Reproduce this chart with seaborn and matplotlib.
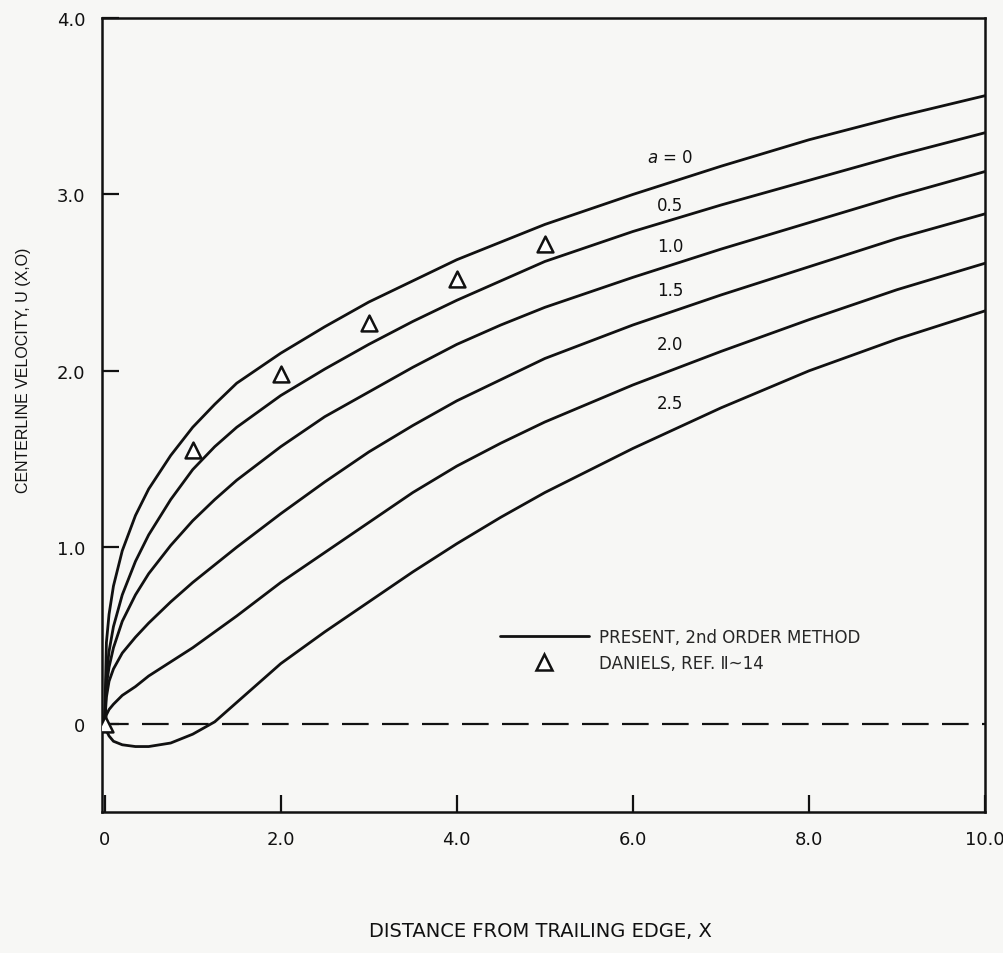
import numpy as np
import pandas as pd
import matplotlib
matplotlib.use("Agg")
import matplotlib.pyplot as plt
import seaborn as sns

# distance from trailing edge (shared grid for all curves)
x_dist = [0, 0.02, 0.05, 0.1, 0.2, 0.35, 0.5, 0.75, 1.0, 1.25, 1.5, 2.0, 2.5,
          3.0, 3.5, 4.0, 4.5, 5.0, 6.0, 7.0, 8.0, 9.0, 10.0]

# centerline velocity for each value of a
u_a00 = [0, 0.46, 0.62, 0.78, 0.98, 1.18, 1.33, 1.52, 1.68, 1.81, 1.93, 2.10, 2.25,
         2.39, 2.51, 2.63, 2.73, 2.83, 3.00, 3.16, 3.31, 3.44, 3.56]
u_a05 = [0, 0.28, 0.41, 0.55, 0.73, 0.92, 1.07, 1.27, 1.44, 1.57, 1.68, 1.86, 2.01,
         2.15, 2.28, 2.40, 2.51, 2.62, 2.79, 2.94, 3.08, 3.22, 3.35]
u_a10 = [0, 0.22, 0.32, 0.43, 0.58, 0.73, 0.85, 1.01, 1.15, 1.27, 1.38, 1.57, 1.74,
         1.88, 2.02, 2.15, 2.26, 2.36, 2.53, 2.69, 2.84, 2.99, 3.13]
u_a15 = [0, 0.15, 0.24, 0.31, 0.40, 0.49, 0.57, 0.69, 0.80, 0.90, 1.00, 1.19, 1.37,
         1.54, 1.69, 1.83, 1.95, 2.07, 2.26, 2.43, 2.59, 2.75, 2.89]
u_a20 = [0, 0.05, 0.08, 0.11, 0.16, 0.21, 0.27, 0.35, 0.43, 0.52, 0.61, 0.80, 0.97,
         1.14, 1.31, 1.46, 1.59, 1.71, 1.92, 2.11, 2.29, 2.46, 2.61]
u_a25 = [0, -0.04, -0.07, -0.10, -0.12, -0.13, -0.13, -0.11, -0.06, 0.01, 0.12, 0.34, 0.52,
         0.69, 0.86, 1.02, 1.17, 1.31, 1.56, 1.79, 2.00, 2.18, 2.34]

a_labels = ["$a$ = 0", "0.5", "1.0", "1.5", "2.0", "2.5"]
label_y = [3.21, 2.94, 2.71, 2.46, 2.15, 1.82]

# Daniels, ref. II-14
daniels_x = [0, 1, 2, 3, 4, 5]
daniels_u = [0, 1.55, 1.98, 2.27, 2.52, 2.72]

curves = [u_a00, u_a05, u_a10, u_a15, u_a20, u_a25]
df = pd.concat([pd.DataFrame({"x": x_dist, "u": u, "a": lab})
                for u, lab in zip(curves, a_labels)])

sns.set_style("ticks")
plt.rcParams["font.family"] = ["DejaVu Sans"]
bg = "#f7f7f5"
ink = "#111111"

fig = plt.figure(figsize=(10.04, 9.54), dpi=100, facecolor=bg)
ax = fig.add_axes([0.1016, 0.148, 0.8795, 0.832])
ax.set_facecolor(bg)

sns.lineplot(data=df, x="x", y="u", units="a", estimator=None, color=ink,
             linewidth=2.0, sort=False, ax=ax, legend=False)
ax.axhline(0, color=ink, linewidth=1.6, dashes=(12, 6), zorder=1)
sns.scatterplot(x=daniels_x, y=daniels_u, marker="^", s=130, facecolor="white",
                edgecolor=ink, linewidth=1.8, zorder=5, ax=ax)

for lab, yy in zip(a_labels, label_y):
    ax.text(6.42, yy, lab, fontsize=12, ha="center", va="center", color=ink)

ax.set_xlim(-0.03, 10.0)
ax.set_ylim(-0.5, 4.0)
ax.set_xticks([0, 2, 4, 6, 8, 10])
ax.set_xticklabels(["0", "2.0", "4.0", "6.0", "8.0", "10.0"])
ax.set_yticks([0, 1, 2, 3, 4])
ax.set_yticklabels(["0", "1.0", "2.0", "3.0", "4.0"])
ax.tick_params(direction="in", length=12, width=1.6, labelsize=13, colors=ink)
ax.tick_params(axis="x", pad=13)
ax.tick_params(axis="y", pad=12)
for sp in ax.spines.values():
    sp.set_linewidth(1.8)
    sp.set_color(ink)

ax.set_xlabel("DISTANCE FROM TRAILING EDGE, X", fontsize=14, color=ink)
ax.xaxis.set_label_coords(0.496, -0.137)
ax.set_ylabel("CENTERLINE VELOCITY, U (X,O)", fontsize=11.5, color=ink,
              family=["Liberation Sans", "DejaVu Sans"])
ax.yaxis.set_label_coords(-0.08, 0.558)

# legend
line_h = plt.Line2D([], [], color=ink, linewidth=2.0)
tri_h = plt.Line2D([], [], color=ink, marker="^", linestyle="none", markersize=11,
                   markerfacecolor="white", markeredgewidth=1.8)
ax.legend([line_h, tri_h], ["PRESENT, 2nd ORDER METHOD", "DANIELS, REF. \u2161~14"],
          loc="upper left", bbox_to_anchor=(0.451, 0.232), frameon=False,
          fontsize=12, handlelength=5.3, handletextpad=0.6, labelspacing=0.5,
          borderpad=0, borderaxespad=0)

fig.savefig("out.png", dpi=100, facecolor=bg)
